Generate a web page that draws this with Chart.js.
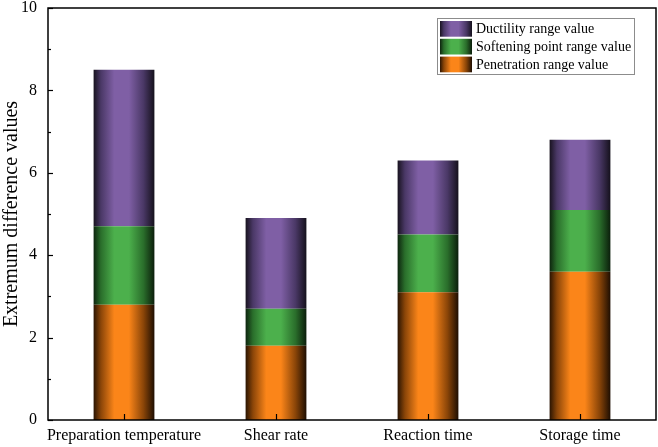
<!DOCTYPE html>
<html>
<head>
<meta charset="utf-8">
<script src="https://cdn.jsdelivr.net/npm/chart.js@4.4.1/dist/chart.umd.min.js"></script>
<style>
  html, body { margin: 0; padding: 0; background: #ffffff; overflow: hidden; }
  #wrap { width: 658px; height: 447px; position: relative; }
</style>
</head>
<body>
<div id="wrap"><canvas id="c" width="658" height="447"></canvas></div>
<script>
const categories = ['Preparation temperature', 'Shear rate', 'Reaction time', 'Storage time'];
const penetrationRange = [2.8, 1.8, 3.1, 3.6];
const softeningRange = [1.9, 0.9, 1.4, 1.5];
const ductilityRange = [3.8, 2.2, 1.8, 1.7];
const seriesNames = ['Penetration range value', 'Softening point range value', 'Ductility range value'];
const yMin = 0, yMax = 10, yStep = 2;

const SERIF = '"Liberation Serif", "Times New Roman", serif';
const BAR_FRACTION = 0.4;

const palette = [
  { dark: '#2a1402', mid: '#8a4508', bright: '#fb8519', darkR: '#1e0e02' },
  { dark: '#0d240e', mid: '#2a6e2b', bright: '#4cb04c', darkR: '#0b1e0b' },
  { dark: '#18131f', mid: '#4a3866', bright: '#7f5fa5', darkR: '#15111c' }
];

function makeGrad(ctx, x0, x1, p) {
  const g = ctx.createLinearGradient(x0, 0, x1, 0);
  g.addColorStop(0, p.dark);
  g.addColorStop(0.12, p.mid);
  g.addColorStop(0.34, p.bright);
  g.addColorStop(0.58, p.bright);
  g.addColorStop(0.82, p.mid);
  g.addColorStop(1, p.darkR);
  return g;
}

function barFill(si) {
  return function (c) {
    const chart = c.chart;
    const xs = chart.scales && chart.scales.x;
    if (!xs || !chart.chartArea || c.dataIndex === undefined) return palette[si].bright;
    const cx = xs.getPixelForValue(c.dataIndex);
    const w = (xs.width / categories.length) * BAR_FRACTION;
    return makeGrad(chart.ctx, cx - w / 2, cx + w / 2, palette[si]);
  };
}

const framePlugin = {
  id: 'frame',
  afterDraw(chart) {
    const ctx = chart.ctx;
    const a = chart.chartArea;
    const ys = chart.scales.y, xs = chart.scales.x;
    ctx.save();
    ctx.strokeStyle = '#000';
    ctx.lineWidth = 1.5;
    ctx.strokeRect(a.left, a.top, a.right - a.left, a.bottom - a.top);
    // inward y ticks (major and minor)
    ctx.lineWidth = 1.2;
    for (let v = yMin; v <= yMax; v += 1) {
      const y = Math.round(ys.getPixelForValue(v)) + 0.5;
      const len = (v % yStep === 0) ? 5 : 3;
      ctx.beginPath();
      ctx.moveTo(a.left, y);
      ctx.lineTo(a.left + len, y);
      ctx.stroke();
    }
    // inward x ticks at categories
    for (let i = 0; i < categories.length; i++) {
      const x = Math.round(xs.getPixelForValue(i)) + 0.5;
      ctx.beginPath();
      ctx.moveTo(x, a.bottom);
      ctx.lineTo(x, a.bottom - 6);
      ctx.stroke();
    }
    // legend
    const bx = 437.5, by = 18.5, bw = 197, bh = 56;
    ctx.fillStyle = '#fff';
    ctx.fillRect(bx, by, bw, bh);
    ctx.strokeStyle = '#8c8c8c';
    ctx.lineWidth = 1;
    ctx.strokeRect(bx, by, bw, bh);
    const order = [2, 1, 0];
    ctx.font = '14px ' + SERIF;
    ctx.textBaseline = 'middle';
    ctx.textAlign = 'left';
    order.forEach((si, row) => {
      const sy = 21 + row * 17.8;
      const sx = 440, sw = 32, sh = 15.7;
      ctx.fillStyle = makeGrad(ctx, sx, sx + sw, palette[si]);
      ctx.fillRect(sx, sy, sw, sh);
      ctx.fillStyle = '#000';
      ctx.fillText(seriesNames[si], 476, sy + sh / 2 + 0.5);
    });
    ctx.restore();
  }
};

new Chart(document.getElementById('c'), {
  type: 'bar',
  data: {
    labels: categories,
    datasets: [
      { label: seriesNames[0], data: penetrationRange, backgroundColor: barFill(0), borderWidth: 0 },
      { label: seriesNames[1], data: softeningRange, backgroundColor: barFill(1), borderWidth: 0 },
      { label: seriesNames[2], data: ductilityRange, backgroundColor: barFill(2), borderWidth: 0 }
    ]
  },
  options: {
    responsive: false,
    animation: false,
    devicePixelRatio: 1,
    layout: { padding: { top: 8, right: 2, left: 0, bottom: 0 } },
    datasets: { bar: { categoryPercentage: 1.0, barPercentage: BAR_FRACTION } },
    plugins: { legend: { display: false }, tooltip: { enabled: false } },
    scales: {
      x: {
        stacked: true,
        offset: true,
        grid: { display: false, drawTicks: false },
        border: { display: false },
        ticks: { color: '#000', font: { family: SERIF, size: 16 }, padding: 6, maxRotation: 0, autoSkip: false },
        afterFit(s) { s.height = 27; s.paddingLeft = 0; s.paddingRight = 0; }
      },
      y: {
        stacked: true,
        min: yMin,
        max: yMax,
        grid: { display: false, drawTicks: false },
        border: { display: false },
        ticks: { stepSize: yStep, color: '#000', font: { family: SERIF, size: 16 }, padding: 11 },
        title: { display: true, text: 'Extremum difference values', color: '#000', font: { family: SERIF, size: 20 }, padding: { top: 0, bottom: 0 } },
        afterFit(s) { s.width = 48; s.paddingTop = 0; s.paddingBottom = 0; }
      }
    }
  },
  plugins: [framePlugin]
});
</script>
</body>
</html>
